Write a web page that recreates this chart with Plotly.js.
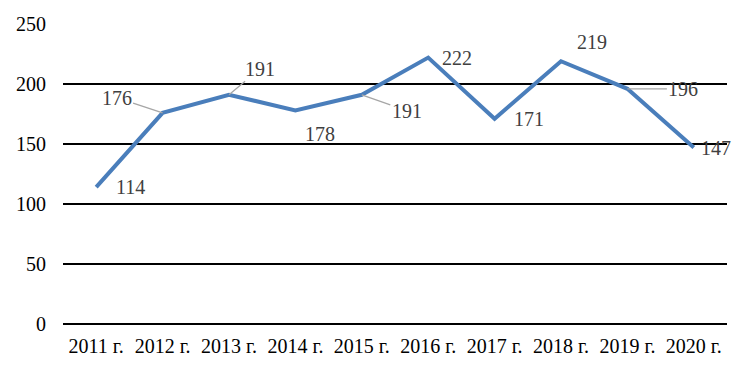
<!DOCTYPE html>
<html><head><meta charset="utf-8">
<script src="https://cdn.plot.ly/plotly-3.0.1.min.js"></script>
<style>body{margin:0;background:#fff}#c{width:750px;height:375px}</style>
</head><body><div id="c"></div>
<script>
const years = ["2011 г.","2012 г.","2013 г.","2014 г.","2015 г.","2016 г.","2017 г.","2018 г.","2019 г.","2020 г."];
const values = [114,176,191,178,191,222,171,219,196,147];
const yTicks = [0,50,100,150,200,250];
// label offsets in pixels (style only): [dx, dy, leader]
const labelOffsets = [[34,0,false],[-46,-15,true],[31,-26,true],[25,24,false],[45,16,true],[29,0,false],[34,0,false],[31,-19,false],[56,0,true],[22,0,false]];
const SERIF = 'Liberation Serif';

const annotations = values.map((v,i)=>{
  const [dx,dy,leader] = labelOffsets[i];
  const base = {x:years[i], y:v, xref:'x', yref:'y', text:String(v),
    font:{family:SERIF, size:20, color:'#404040'}};
  if(leader){
    return Object.assign(base,{showarrow:true, arrowhead:0, arrowwidth:1.3, arrowcolor:'#a6a6a6', ax:dx, ay:dy, standoff:0});
  }
  return Object.assign(base,{showarrow:false, xshift:dx, yshift:-dy});
});

Plotly.newPlot('c',[{
  type:'scatter', mode:'lines', x:years, y:values,
  line:{color:'#4a7ebb', width:4}, hoverinfo:'none'
}],{
  width:750, height:375,
  margin:{l:63, r:23, t:24, b:51},
  paper_bgcolor:'#fff', plot_bgcolor:'#fff',
  showlegend:false,
  font:{family:SERIF, size:20, color:'#000'},
  xaxis:{type:'category', range:[-0.5,9.5], showgrid:false, zeroline:false, showline:false,
    ticks:'', tickfont:{family:SERIF, size:20, color:'#000'}, ticklabelstandoff:8},
  yaxis:{range:[0,250], tickvals:yTicks, showgrid:true, gridcolor:'#000', gridwidth:1.3,
    zeroline:true, zerolinecolor:'#000', zerolinewidth:1.3, showline:false, ticks:'',
    tickfont:{family:SERIF, size:20, color:'#000'}, ticklabelstandoff:16},
  annotations:annotations
},{staticPlot:true});
</script></body></html>
